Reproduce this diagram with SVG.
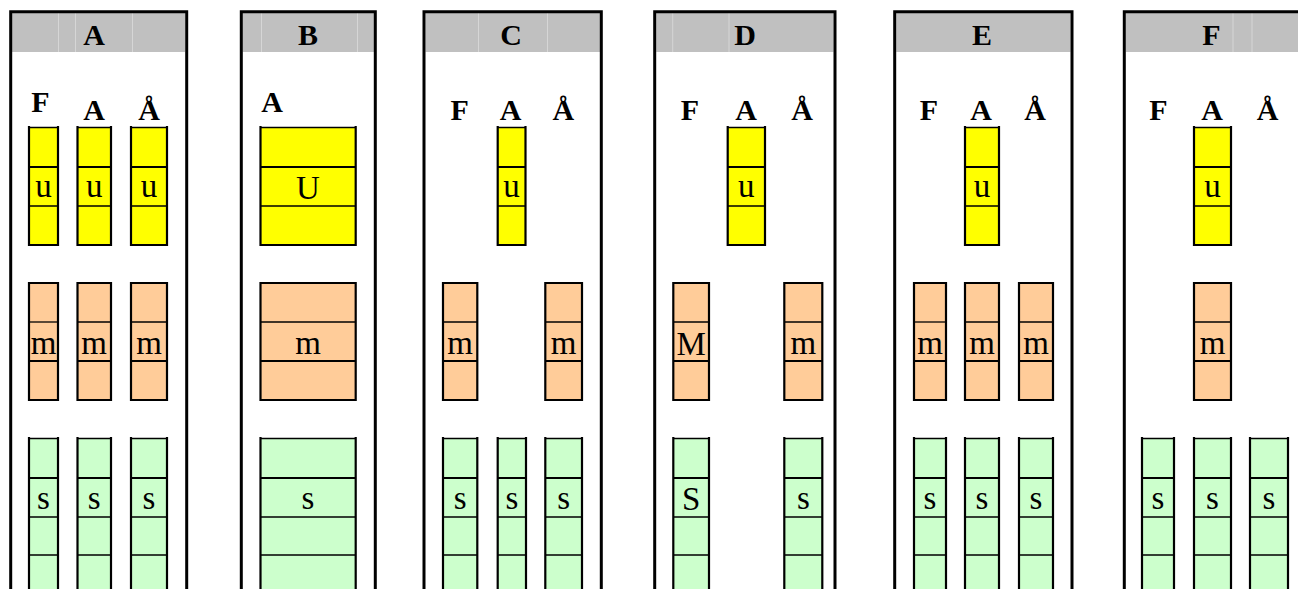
<svg xmlns="http://www.w3.org/2000/svg" width="1298" height="589" viewBox="0 0 1298 589">
<style>
.frame{fill:none;stroke:#000;stroke-width:3}
.band{fill:#c0c0c0}
.grid{stroke:#d6d6d6;stroke-width:1}
.y{fill:#ffff00}
.o{fill:#ffcc99}
.g{fill:#ccffcc}
.tk{fill:none;stroke:#000;stroke-width:2.2}
.tn{fill:none;stroke:#000;stroke-width:1.3}
.h{font-family:"Liberation Serif","Times New Roman",serif;font-weight:bold;font-size:30px;text-anchor:middle;fill:#000}
.lb{font-family:"Liberation Serif","Times New Roman",serif;font-size:33px;text-anchor:middle;fill:#000}
</style>
<rect width="1298" height="589" fill="#fff"/>

<!-- Panel A -->
<g id="panelA">
<rect class="band" x="12" y="13" width="173" height="39"/>
<path class="grid" d="M58.5 13V52M75.5 13V52M132.5 13V52"/>
<path class="frame" d="M10.7 600V11.7H186.7V600"/>
<text class="h" x="94" y="45">A</text>
<text class="h" x="40.5" y="112">F</text>
<text class="h" x="94" y="120">A</text>
<text class="h" x="149" y="120">Å</text>
<g id="A-u1"><rect class="y" x="29" y="127" width="29" height="118"/><path class="tk" d="M29 126V246M58 126V246M29 167H58M29 245H58"/><path class="tn" d="M29 127.5H58M29 206H58"/><text class="lb" x="43.5" y="197">u</text></g>
<g id="A-u2"><rect class="y" x="77.5" y="127" width="33.5" height="118"/><path class="tk" d="M77.5 126V246M111 126V246M77.5 167H111M77.5 245H111"/><path class="tn" d="M77.5 127.5H111M77.5 206H111"/><text class="lb" x="94.2" y="197">u</text></g>
<g id="A-u3"><rect class="y" x="131" y="127" width="36" height="118"/><path class="tk" d="M131 126V246M167 126V246M131 167H167M131 245H167"/><path class="tn" d="M131 127.5H167M131 206H167"/><text class="lb" x="149" y="197">u</text></g>
<g id="A-m1"><rect class="o" x="29" y="283" width="29" height="117"/><path class="tk" d="M29 282V401M58 282V401M29 283H58M29 361H58M29 400H58"/><path class="tn" d="M29 322H58"/><text class="lb" x="43.5" y="354">m</text></g>
<g id="A-m2"><rect class="o" x="77.5" y="283" width="33.5" height="117"/><path class="tk" d="M77.5 282V401M111 282V401M77.5 283H111M77.5 361H111M77.5 400H111"/><path class="tn" d="M77.5 322H111"/><text class="lb" x="94.2" y="354">m</text></g>
<g id="A-m3"><rect class="o" x="131" y="283" width="36" height="117"/><path class="tk" d="M131 282V401M167 282V401M131 283H167M131 361H167M131 400H167"/><path class="tn" d="M131 322H167"/><text class="lb" x="149" y="354">m</text></g>
<g id="A-s1"><rect class="g" x="29" y="438" width="29" height="160"/><path class="tk" d="M29 437V600M58 437V600M29 478H58"/><path class="tn" d="M29 438.5H58M29 517H58M29 555H58"/><text class="lb" x="43.5" y="509">s</text></g>
<g id="A-s2"><rect class="g" x="77.5" y="438" width="33.5" height="160"/><path class="tk" d="M77.5 437V600M111 437V600M77.5 478H111"/><path class="tn" d="M77.5 438.5H111M77.5 517H111M77.5 555H111"/><text class="lb" x="94.2" y="509">s</text></g>
<g id="A-s3"><rect class="g" x="131" y="438" width="36" height="160"/><path class="tk" d="M131 437V600M167 437V600M131 478H167"/><path class="tn" d="M131 438.5H167M131 517H167M131 555H167"/><text class="lb" x="149" y="509">s</text></g>
</g>

<!-- Panel B -->
<g id="panelB">
<rect class="band" x="242.5" y="13" width="131.5" height="39"/>
<path class="grid" d="M261.5 13V52M357.5 13V52"/>
<path class="frame" d="M241.3 600V11.7H375.3V600"/>
<text class="h" x="308" y="45">B</text>
<text class="h" x="272" y="112">A</text>
<g id="B-u"><rect class="y" x="260.5" y="127" width="95.2" height="118"/><path class="tk" d="M260.5 126V246M355.7 126V246M260.5 167H355.7M260.5 245H355.7"/><path class="tn" d="M260.5 127.5H355.7M260.5 206H355.7"/><text class="lb" x="308" y="199">U</text></g>
<g id="B-m"><rect class="o" x="260.5" y="283" width="95.2" height="117"/><path class="tk" d="M260.5 282V401M355.7 282V401M260.5 283H355.7M260.5 361H355.7M260.5 400H355.7"/><path class="tn" d="M260.5 322H355.7"/><text class="lb" x="308" y="354">m</text></g>
<g id="B-s"><rect class="g" x="260.5" y="438" width="95.2" height="160"/><path class="tk" d="M260.5 437V600M355.7 437V600M260.5 478H355.7"/><path class="tn" d="M260.5 438.5H355.7M260.5 517H355.7M260.5 555H355.7"/><text class="lb" x="308" y="509">s</text></g>
</g>

<!-- Panel C -->
<g id="panelC">
<rect class="band" x="425.5" y="13" width="174.5" height="39"/>
<path class="grid" d="M478.5 13V52M547.5 13V52"/>
<path class="frame" d="M424 600V11.7H601.3V600"/>
<text class="h" x="511" y="45">C</text>
<text class="h" x="459.7" y="120">F</text>
<text class="h" x="510.5" y="120">A</text>
<text class="h" x="563.3" y="120">Å</text>
<g id="C-u2"><rect class="y" x="497.7" y="127" width="27.8" height="118"/><path class="tk" d="M497.7 126V246M525.5 126V246M497.7 167H525.5M497.7 245H525.5"/><path class="tn" d="M497.7 127.5H525.5M497.7 206H525.5"/><text class="lb" x="511.6" y="197">u</text></g>
<g id="C-m1"><rect class="o" x="443" y="283" width="34.3" height="117"/><path class="tk" d="M443 282V401M477.3 282V401M443 283H477.3M443 361H477.3M443 400H477.3"/><path class="tn" d="M443 322H477.3"/><text class="lb" x="460.2" y="354">m</text></g>
<g id="C-m3"><rect class="o" x="545.3" y="283" width="36.7" height="117"/><path class="tk" d="M545.3 282V401M582 282V401M545.3 283H582M545.3 361H582M545.3 400H582"/><path class="tn" d="M545.3 322H582"/><text class="lb" x="563.7" y="354">m</text></g>
<g id="C-s1"><rect class="g" x="443" y="438" width="34.3" height="160"/><path class="tk" d="M443 437V600M477.3 437V600M443 478H477.3"/><path class="tn" d="M443 438.5H477.3M443 517H477.3M443 555H477.3"/><text class="lb" x="460.2" y="509">s</text></g>
<g id="C-s2"><rect class="g" x="497.7" y="438" width="28.3" height="160"/><path class="tk" d="M497.7 437V600M526 437V600M497.7 478H526"/><path class="tn" d="M497.7 438.5H526M497.7 517H526M497.7 555H526"/><text class="lb" x="511.8" y="509">s</text></g>
<g id="C-s3"><rect class="g" x="545.3" y="438" width="36.7" height="160"/><path class="tk" d="M545.3 437V600M582 437V600M545.3 478H582"/><path class="tn" d="M545.3 438.5H582M545.3 517H582M545.3 555H582"/><text class="lb" x="563.7" y="509">s</text></g>
</g>

<!-- Panel D -->
<g id="panelD">
<rect class="band" x="656.2" y="13" width="177.3" height="39"/>
<path class="grid" d="M672.7 13V52M729 13V52"/>
<path class="frame" d="M654.7 600V11.7H835V600"/>
<text class="h" x="745" y="45">D</text>
<text class="h" x="690" y="120">F</text>
<text class="h" x="746" y="120">A</text>
<text class="h" x="802" y="120">Å</text>
<g id="D-u2"><rect class="y" x="727.7" y="127" width="37.3" height="118"/><path class="tk" d="M727.7 126V246M765 126V246M727.7 167H765M727.7 245H765"/><path class="tn" d="M727.7 127.5H765M727.7 206H765"/><text class="lb" x="746.3" y="197">u</text></g>
<g id="D-m1"><rect class="o" x="673.3" y="283" width="35.7" height="117"/><path class="tk" d="M673.3 282V401M709 282V401M673.3 283H709M673.3 361H709M673.3 400H709"/><path class="tn" d="M673.3 322H709"/><text class="lb" x="691.2" y="355">M</text></g>
<g id="D-m3"><rect class="o" x="784.3" y="283" width="38" height="117"/><path class="tk" d="M784.3 282V401M822.3 282V401M784.3 283H822.3M784.3 361H822.3M784.3 400H822.3"/><path class="tn" d="M784.3 322H822.3"/><text class="lb" x="803.3" y="354">m</text></g>
<g id="D-s1"><rect class="g" x="673.3" y="438" width="35.7" height="160"/><path class="tk" d="M673.3 437V600M709 437V600M673.3 478H709"/><path class="tn" d="M673.3 438.5H709M673.3 517H709M673.3 555H709"/><text class="lb" x="691.2" y="510">S</text></g>
<g id="D-s3"><rect class="g" x="784.3" y="438" width="38" height="160"/><path class="tk" d="M784.3 437V600M822.3 437V600M784.3 478H822.3"/><path class="tn" d="M784.3 438.5H822.3M784.3 517H822.3M784.3 555H822.3"/><text class="lb" x="803.3" y="509">s</text></g>
</g>

<!-- Panel E -->
<g id="panelE">
<rect class="band" x="896.2" y="13" width="174.3" height="39"/>
<path class="frame" d="M894.7 600V11.7H1072V600"/>
<text class="h" x="982" y="45">E</text>
<text class="h" x="929" y="120">F</text>
<text class="h" x="981" y="120">A</text>
<text class="h" x="1035" y="120">Å</text>
<g id="E-u2"><rect class="y" x="965" y="127" width="34" height="118"/><path class="tk" d="M965 126V246M999 126V246M965 167H999M965 245H999"/><path class="tn" d="M965 127.5H999M965 206H999"/><text class="lb" x="982" y="197">u</text></g>
<g id="E-m1"><rect class="o" x="914" y="283" width="32" height="117"/><path class="tk" d="M914 282V401M946 282V401M914 283H946M914 361H946M914 400H946"/><path class="tn" d="M914 322H946"/><text class="lb" x="930" y="354">m</text></g>
<g id="E-m2"><rect class="o" x="965" y="283" width="34" height="117"/><path class="tk" d="M965 282V401M999 282V401M965 283H999M965 361H999M965 400H999"/><path class="tn" d="M965 322H999"/><text class="lb" x="982" y="354">m</text></g>
<g id="E-m3"><rect class="o" x="1019" y="283" width="34" height="117"/><path class="tk" d="M1019 282V401M1053 282V401M1019 283H1053M1019 361H1053M1019 400H1053"/><path class="tn" d="M1019 322H1053"/><text class="lb" x="1036" y="354">m</text></g>
<g id="E-s1"><rect class="g" x="914" y="438" width="32" height="160"/><path class="tk" d="M914 437V600M946 437V600M914 478H946"/><path class="tn" d="M914 438.5H946M914 517H946M914 555H946"/><text class="lb" x="930" y="509">s</text></g>
<g id="E-s2"><rect class="g" x="965" y="438" width="34" height="160"/><path class="tk" d="M965 437V600M999 437V600M965 478H999"/><path class="tn" d="M965 438.5H999M965 517H999M965 555H999"/><text class="lb" x="982" y="509">s</text></g>
<g id="E-s3"><rect class="g" x="1019" y="438" width="34" height="160"/><path class="tk" d="M1019 437V600M1053 437V600M1019 478H1053"/><path class="tn" d="M1019 438.5H1053M1019 517H1053M1019 555H1053"/><text class="lb" x="1036" y="509">s</text></g>
</g>

<!-- Panel F -->
<g id="panelF">
<rect class="band" x="1125.8" y="13" width="180" height="39"/>
<path class="grid" d="M1233 13V52M1252 13V52"/>
<path class="frame" d="M1124.3 600V11.7H1310V600"/>
<text class="h" x="1211.5" y="45">F</text>
<text class="h" x="1158.5" y="120">F</text>
<text class="h" x="1212" y="120">A</text>
<text class="h" x="1267.5" y="120">Å</text>
<g id="F-u2"><rect class="y" x="1194" y="127" width="37" height="118"/><path class="tk" d="M1194 126V246M1231 126V246M1194 167H1231M1194 245H1231"/><path class="tn" d="M1194 127.5H1231M1194 206H1231"/><text class="lb" x="1212.5" y="197">u</text></g>
<g id="F-m2"><rect class="o" x="1194" y="283" width="37" height="117"/><path class="tk" d="M1194 282V401M1231 282V401M1194 283H1231M1194 361H1231M1194 400H1231"/><path class="tn" d="M1194 322H1231"/><text class="lb" x="1212.5" y="354">m</text></g>
<g id="F-s1"><rect class="g" x="1142" y="438" width="32" height="160"/><path class="tk" d="M1142 437V600M1174 437V600M1142 478H1174"/><path class="tn" d="M1142 438.5H1174M1142 517H1174M1142 555H1174"/><text class="lb" x="1158" y="509">s</text></g>
<g id="F-s2"><rect class="g" x="1194" y="438" width="37" height="160"/><path class="tk" d="M1194 437V600M1231 437V600M1194 478H1231"/><path class="tn" d="M1194 438.5H1231M1194 517H1231M1194 555H1231"/><text class="lb" x="1212.5" y="509">s</text></g>
<g id="F-s3"><rect class="g" x="1250" y="438" width="38" height="160"/><path class="tk" d="M1250 437V600M1288 437V600M1250 478H1288"/><path class="tn" d="M1250 438.5H1288M1250 517H1288M1250 555H1288"/><text class="lb" x="1269" y="509">s</text></g>
</g>

<g id="connectors"/>
</svg>
